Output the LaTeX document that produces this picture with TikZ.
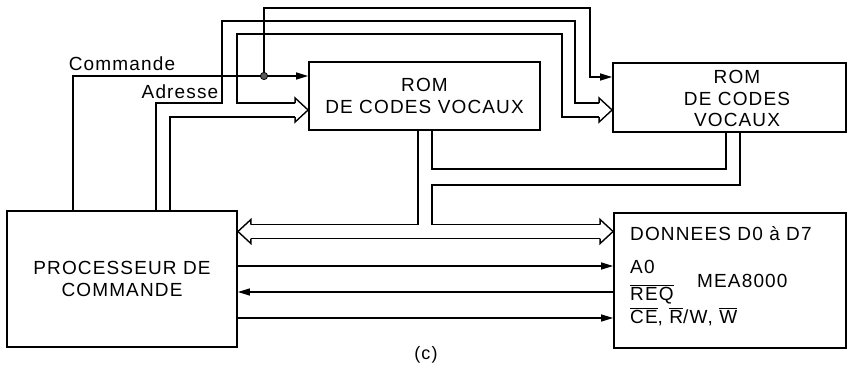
\documentclass[tikz,border=0pt]{standalone}
\usepackage{fontspec}
\setmainfont[LetterSpace=6]{Liberation Sans}
\usetikzlibrary{arrows.meta,calc}
\begin{document}
\begin{tikzpicture}[x=1pt,y=-1pt,
  box/.style={draw, line width=1.8pt, inner sep=0pt, align=center},
  txt/.style={font=\fontsize{19}{21.5}\selectfont, inner sep=0pt},
  wire/.style={line width=1.4pt, line join=miter},
  sig/.style={wire, -{Triangle[length=12pt,width=7pt]}},
  bushR/.pic={\draw[wire] (-13,-7) -- (-13,-12) -- (0,0) -- (-13,12) -- (-13,7);},
  bushL/.pic={\draw[wire] (13,-7) -- (13,-12) -- (0,0) -- (13,12) -- (13,7);}]
\useasboundingbox (0,0) rectangle (848,364);

% blocks
\node[box, txt, minimum width=230pt, minimum height=136pt] (proc) at (122,279) {PROCESSEUR DE\\COMMANDE};
\node[box, txt, minimum width=231pt, minimum height=68pt] (rom1) at (424.5,96) {ROM\\DE CODES VOCAUX};
\node[box, minimum width=233pt, minimum height=69pt] (rom2) at (729.5,97.5) {};
\node[txt, align=center] (rom2t) at (737,98.5) {ROM\\DE CODES\\VOCAUX};
\node[box, minimum width=232pt, minimum height=135pt] (mea) at (730,280.5) {};

% MEA texts
\node[txt, anchor=base west] (dd) at (630,240) {DONNEES D0 à D7};
\node[txt, anchor=base west] (a0) at (630,273) {A0};
\node[txt, anchor=base west] (req) at (630,300) {$\overline{\mbox{REQ}}$};
\node[txt, anchor=base west] (ce) at (630,323) {$\overline{\mbox{CE}}$, $\overline{\mbox{R}}$/W, $\overline{\mbox{W}}$};
\node[txt, anchor=base west] (mt) at (697,287) {MEA8000};

% labels
\node[txt, anchor=base] (lcmd) at (122,70) {Commande};
\node[txt, anchor=base] (ladr) at (180,98) {Adresse};
\node[font=\fontsize{18}{20}\selectfont, inner sep=0pt, anchor=base] (lc) at (426,359) {(c)};

% Commande line
\coordinate (dot) at (264,76);
\draw[sig] (73,0 |- proc.north) |- (dot) -- (dot -| rom1.west);
\draw[sig] (dot) |- (590,8) |- (rom2.west |- 0,77);
\filldraw[fill=black!65, draw=black, line width=0.8pt] (dot) circle (3.6pt);

% Address bus
\draw[wire] (156,0 |- proc.north) -- (156,103) -- (222,103) -- (222,21) -- (575,21) -- (575,103) -- ($(rom2.west |- 0,103)+(-13,0)$);
\draw[wire] ($(rom1.west |- 0,103)+(-13,0)$) -- (237,103) -- (237,34) -- (562,34) -- (562,117) -- ($(rom2.west |- 0,117)+(-13,0)$);
\draw[wire] (170,0 |- proc.north) -- (170,117) -- ($(rom1.west |- 0,117)+(-13,0)$);
\pic at (rom1.west |- 0,110) {bushR};
\pic at (rom2.west |- 0,110) {bushR};

% Data bus
\draw[wire] (432,0 |- rom1.south) -- (432,169) -- (726,169) -- (726,0 |- rom2.south);
\draw[wire] (740,0 |- rom2.south) -- (740,185) -- (432,185) -- (432,224.5) -- ($(mea.west |- 0,224.5)+(-13,0)$);
\draw[wire] (418,0 |- rom1.south) -- (418,224.5) -- ($(proc.east |- 0,224.5)+(13,0)$);
\draw[wire] ($(proc.east |- 0,238.5)+(13,0)$) -- ($(mea.west |- 0,238.5)+(-13,0)$);
\pic at (proc.east |- 0,231.5) {bushL};
\pic at (mea.west |- 0,231.5) {bushR};

% Control lines
\draw[sig] (proc.east |- 0,266) -- (mea.west |- 0,266);
\draw[sig] (mea.west |- 0,292) -- (proc.east |- 0,292);
\draw[sig] (proc.east |- 0,318) -- (mea.west |- 0,318);
\end{tikzpicture}
\end{document}
